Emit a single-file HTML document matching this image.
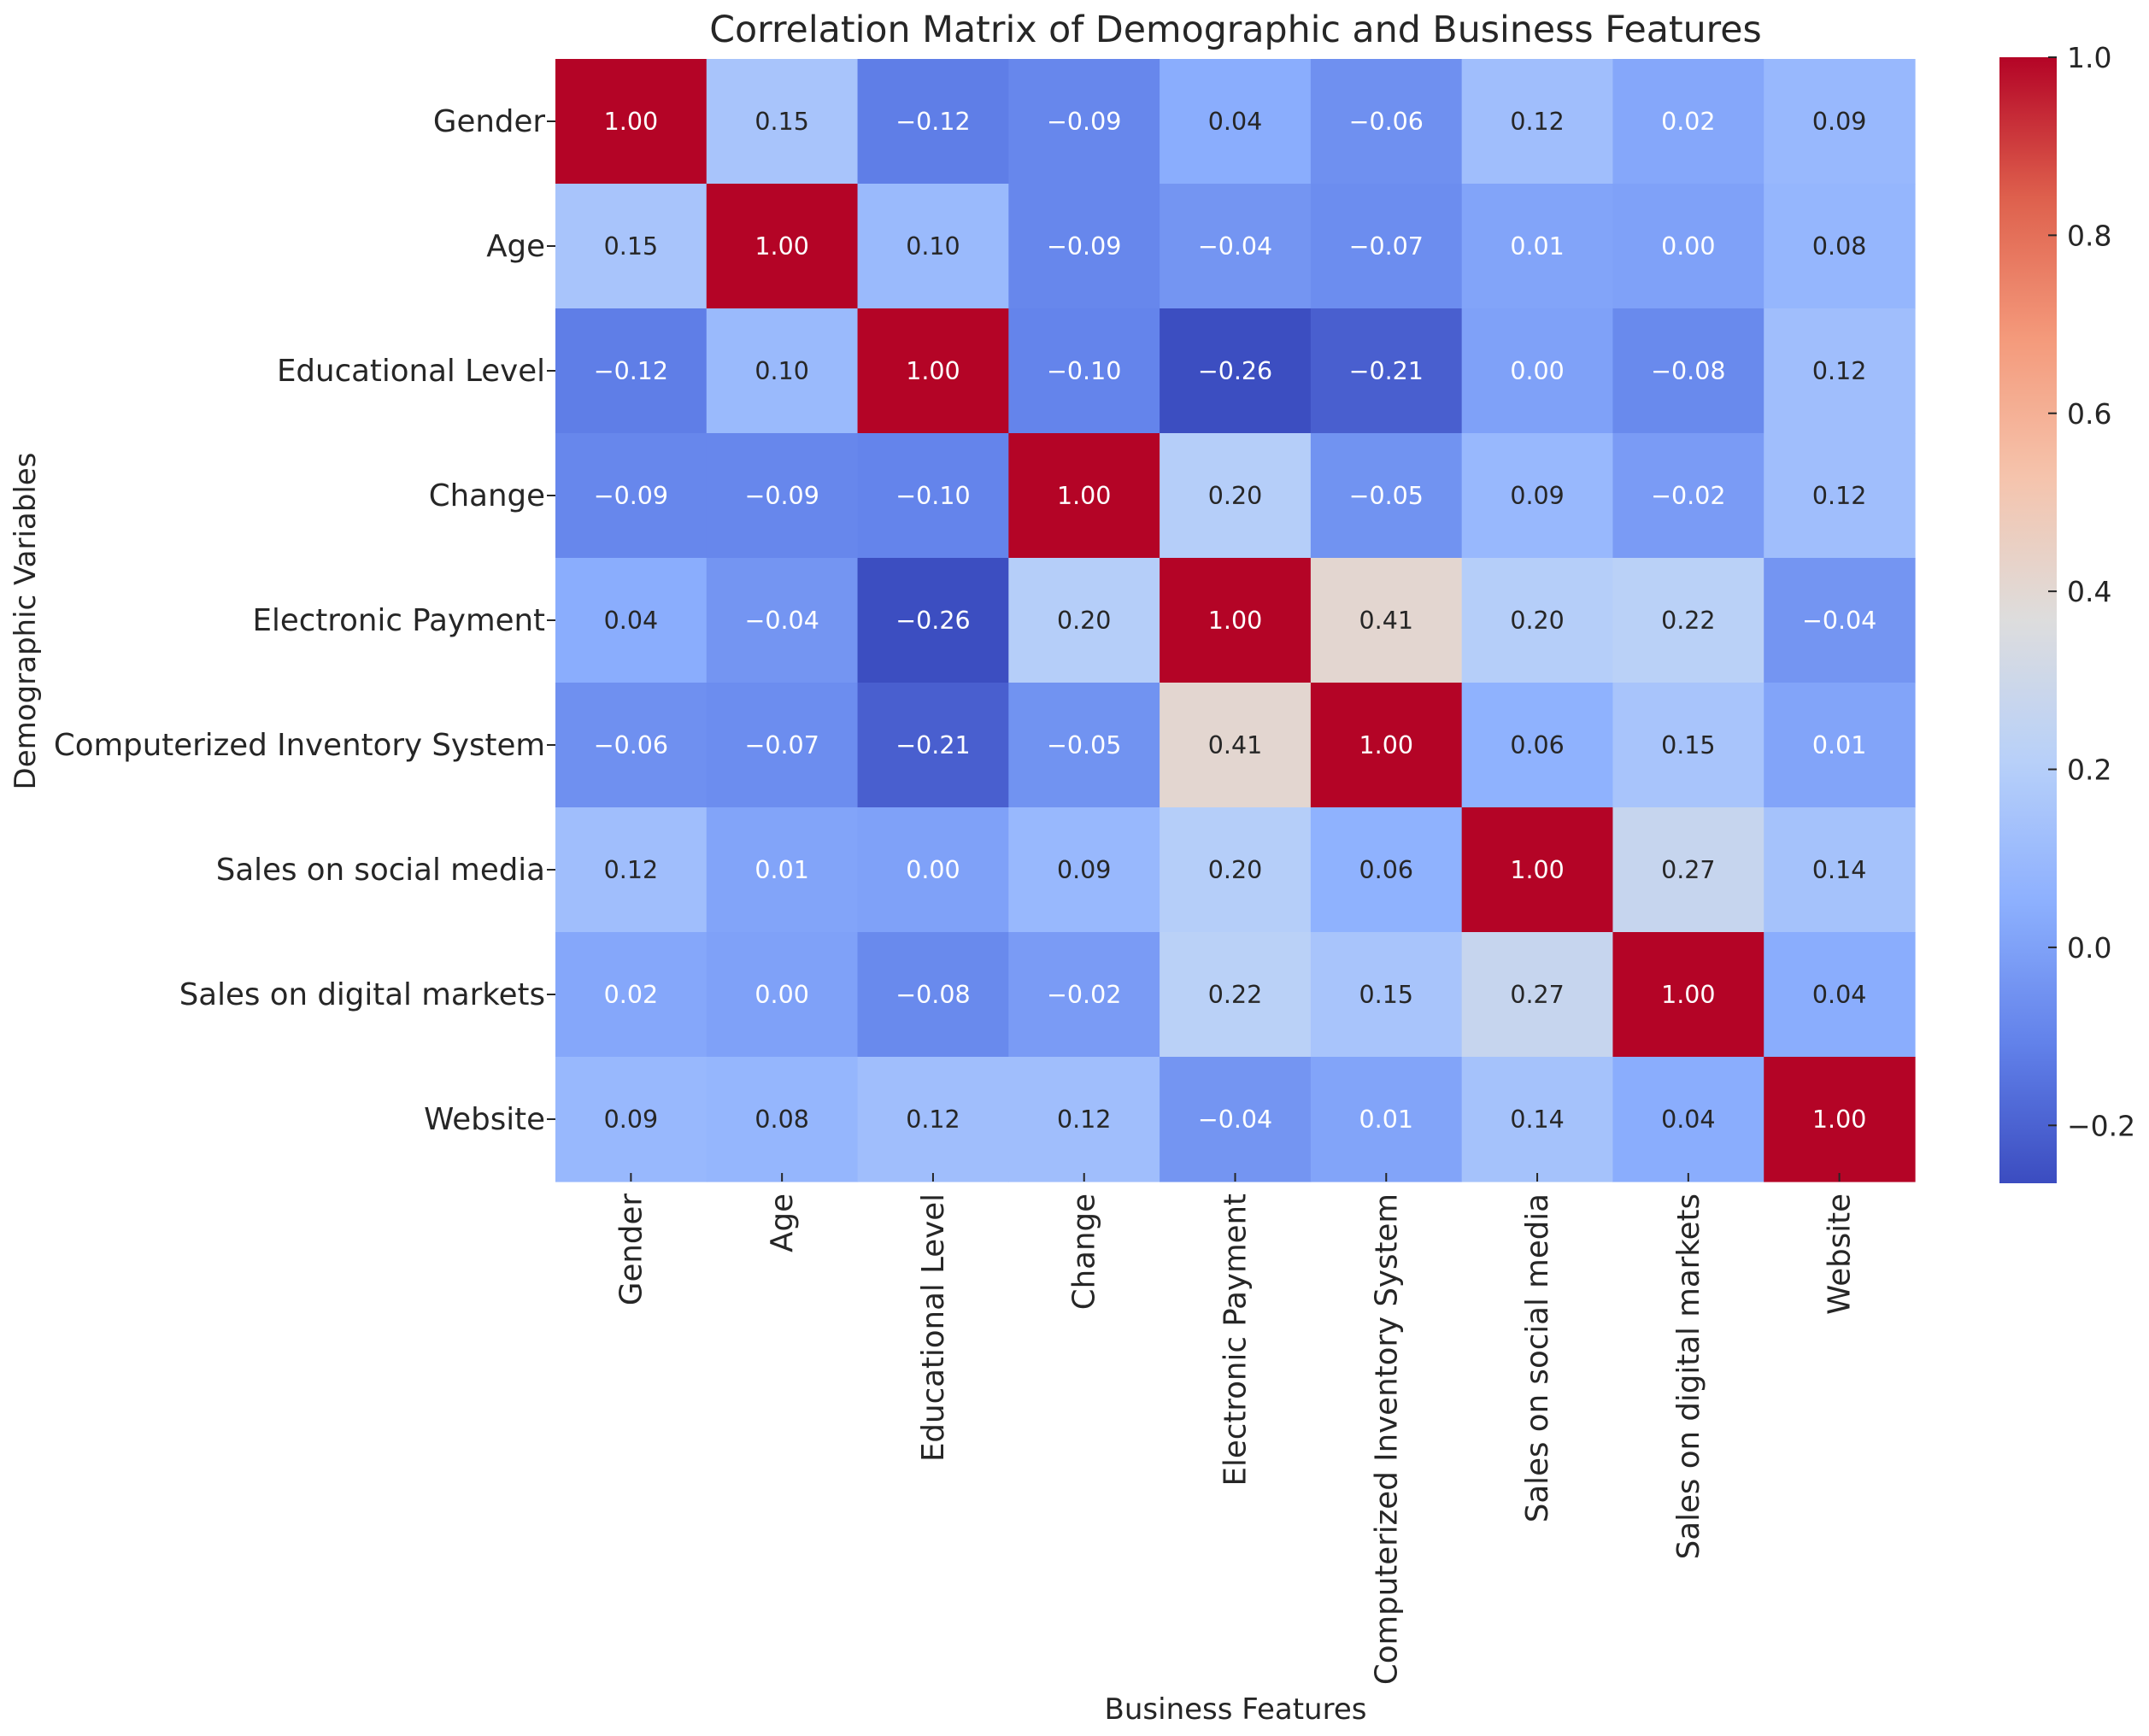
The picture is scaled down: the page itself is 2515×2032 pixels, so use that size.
<!DOCTYPE html>
<html><head><meta charset="utf-8">
<style>
html,body{margin:0;padding:0;background:#fff;}
svg{display:block;font-family:"DejaVu Sans","Liberation Sans",sans-serif;}
</style></head>
<body>
<svg id="chart" width="2515" height="2032" viewBox="0 0 2515 2032" xmlns="http://www.w3.org/2000/svg">
<text x="1446" y="49" font-size="42.7" text-anchor="middle" fill="#262626">Correlation Matrix of Demographic and Business Features</text>
<text x="1446" y="2012" font-size="34" text-anchor="middle" fill="#262626">Business Features</text>
<text transform="translate(41,727) rotate(-90)" font-size="34" text-anchor="middle" fill="#262626">Demographic Variables</text>
<g id="cells"></g>
<g id="ylabels"></g>
<g id="xlabels"></g>
<defs><linearGradient id="cbgrad" x1="0" y1="1" x2="0" y2="0"></linearGradient></defs>
<g id="cbar"></g>
</svg>
<script>
const rowLabels = ["Gender","Age","Educational Level","Change","Electronic Payment","Computerized Inventory System","Sales on social media","Sales on digital markets","Website"];
const colLabels = ["Gender","Age","Educational Level","Change","Electronic Payment","Computerized Inventory System","Sales on social media","Sales on digital markets","Website"];
const rowGender = [1.00,0.15,-0.12,-0.09,0.04,-0.06,0.12,0.02,0.09];
const rowAge = [0.15,1.00,0.10,-0.09,-0.04,-0.07,0.01,0.00,0.08];
const rowEdu = [-0.12,0.10,1.00,-0.10,-0.26,-0.21,0.00,-0.08,0.12];
const rowChange = [-0.09,-0.09,-0.10,1.00,0.20,-0.05,0.09,-0.02,0.12];
const rowEPay = [0.04,-0.04,-0.26,0.20,1.00,0.41,0.20,0.22,-0.04];
const rowCIS = [-0.06,-0.07,-0.21,-0.05,0.41,1.00,0.06,0.15,0.01];
const rowSocial = [0.12,0.01,0.00,0.09,0.20,0.06,1.00,0.27,0.14];
const rowDigital = [0.02,0.00,-0.08,-0.02,0.22,0.15,0.27,1.00,0.04];
const rowWebsite = [0.09,0.08,0.12,0.12,-0.04,0.01,0.14,0.04,1.00];
const cbTicks = [-0.2,0.0,0.2,0.4,0.6,0.8,1.0];
const vMin = -0.265, vMax = 1.0;

const matrix = [rowGender,rowAge,rowEdu,rowChange,rowEPay,rowCIS,rowSocial,rowDigital,rowWebsite];
const NS = "http://www.w3.org/2000/svg";
const L = 650, T = 69, W = 1591, H = 1314;
const cw = W / colLabels.length, ch = H / rowLabels.length;
function xPos(i){ return L + i*cw; }
function yPos(i){ return T + i*ch; }
const stops = [[0,59,76,192],[0.125,98,130,234],[0.25,141,176,254],[0.375,184,208,249],[0.5,221,221,221],[0.625,245,196,173],[0.75,244,154,123],[0.875,222,96,77],[1,180,4,38]];
function cmap(v){
  let t = (v - vMin)/(vMax - vMin); t = Math.max(0, Math.min(1, t));
  for (let k=1;k<stops.length;k++){
    if (t <= stops[k][0]){
      const a=stops[k-1], b=stops[k], f=(t-a[0])/(b[0]-a[0]);
      return [0,1,2].map(j=>Math.round(a[j+1]+(b[j+1]-a[j+1])*f));
    }
  }
  return [180,4,38];
}
function lum(c){
  const l = c.map(x=>{x/=255; return x<=0.03928? x/12.92 : Math.pow((x+0.055)/1.055,2.4);});
  return 0.2126*l[0]+0.7152*l[1]+0.0722*l[2];
}
function fmt(v){ const s = Math.abs(v).toFixed(2); return (v<0?"\u2212":"")+s; }
const cells = document.getElementById('cells');
matrix.forEach((row,r)=>{
  row.forEach((v,c)=>{
    const col = cmap(v);
    const rect = document.createElementNS(NS,'rect');
    
    
    rect.setAttribute('x', xPos(c)); rect.setAttribute('y', yPos(r));
    rect.setAttribute('width', cw+0.6); rect.setAttribute('height', ch+0.6);
    rect.setAttribute('fill', `rgb(${col[0]},${col[1]},${col[2]})`);
    cells.appendChild(rect);
    const tx = document.createElementNS(NS,'text');
    
    
    tx.setAttribute('x', xPos(c)+cw/2); tx.setAttribute('y', yPos(r)+ch/2+10);
    tx.setAttribute('font-size', '28.5'); tx.setAttribute('text-anchor','middle');
    tx.setAttribute('fill', lum(col) < 0.415 ? '#ffffff' : '#262626');
    tx.textContent = fmt(v);
    cells.appendChild(tx);
  });
});
const yl = document.getElementById('ylabels');
rowLabels.forEach((lab,r)=>{
  const cy = yPos(r)+ch/2;
  const tk = document.createElementNS(NS,'line');
  
  
  tk.setAttribute('x1', L-10); tk.setAttribute('x2', L); tk.setAttribute('y1', cy); tk.setAttribute('y2', cy);
  tk.setAttribute('stroke', '#262626'); tk.setAttribute('stroke-width', '2');
  yl.appendChild(tk);
  const t = document.createElementNS(NS,'text');
  
  
  t.setAttribute('x', 638); t.setAttribute('y', cy+12);
  t.setAttribute('font-size', '35.6'); t.setAttribute('text-anchor','end'); t.setAttribute('fill','#262626');
  t.textContent = lab;
  yl.appendChild(t);
});
const xl = document.getElementById('xlabels');
colLabels.forEach((lab,c)=>{
  const cx = xPos(c)+cw/2;
  const tk = document.createElementNS(NS,'line');
  
  
  tk.setAttribute('x1', cx); tk.setAttribute('x2', cx); tk.setAttribute('y1', T+H-10); tk.setAttribute('y2', T+H);
  tk.setAttribute('stroke', '#262626'); tk.setAttribute('stroke-width', '2');
  xl.appendChild(tk);
  const t = document.createElementNS(NS,'text');
  
  
  t.setAttribute('transform', `translate(${cx+12},${T+H+14}) rotate(-90)`);
  t.setAttribute('font-size', '35.6'); t.setAttribute('text-anchor','end'); t.setAttribute('fill','#262626');
  t.textContent = lab;
  xl.appendChild(t);
});
const grad = document.getElementById('cbgrad');
for (let k=0;k<=40;k++){
  const v = vMin + (vMax-vMin)*k/40, col = cmap(v);
  const s = document.createElementNS(NS,'stop');
  s.setAttribute('offset', (k/40).toFixed(3));
  s.setAttribute('stop-color', `rgb(${col[0]},${col[1]},${col[2]})`);
  grad.appendChild(s);
}
const cb = document.getElementById('cbar');
const CBX = 2340, CBW = 67, CBT = 67, CBB = 1385;
function cbY(v){ return CBB - (v - vMin)/(vMax - vMin)*(CBB - CBT); }
const bar = document.createElementNS(NS,'rect');


bar.setAttribute('x', CBX); bar.setAttribute('y', CBT); bar.setAttribute('width', CBW); bar.setAttribute('height', CBB-CBT);
bar.setAttribute('fill', 'url(#cbgrad)');
cb.appendChild(bar);
cbTicks.forEach(v=>{
  const y = cbY(v);
  const tk = document.createElementNS(NS,'line');
  
  
  tk.setAttribute('x1', CBX+CBW-10); tk.setAttribute('x2', CBX+CBW); tk.setAttribute('y1', y); tk.setAttribute('y2', y);
  tk.setAttribute('stroke', '#262626'); tk.setAttribute('stroke-width', '2');
  cb.appendChild(tk);
  const t = document.createElementNS(NS,'text');
  
  
  t.setAttribute('x', CBX+CBW+12); t.setAttribute('y', y+12);
  t.setAttribute('font-size', '33'); t.setAttribute('fill', '#262626');
  t.textContent = (v<0?"\u2212":"") + Math.abs(v).toFixed(1);
  cb.appendChild(t);
});
</script>
</body></html>
